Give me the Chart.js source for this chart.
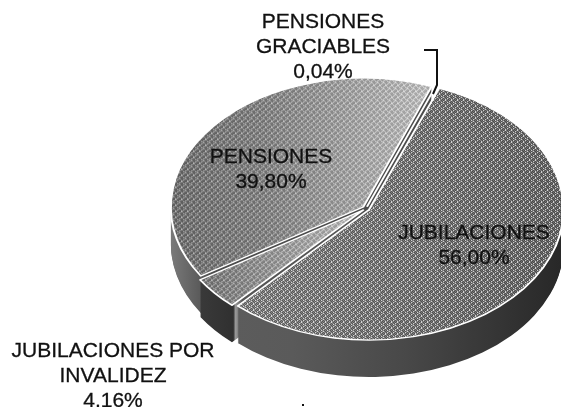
<!DOCTYPE html>
<html>
<head>
<meta charset="utf-8">
<style>
  html, body { margin: 0; padding: 0; background: #fff; }
  canvas { display: block; }
</style>
<script src="https://cdn.jsdelivr.net/npm/chart.js@4/dist/chart.umd.min.js"></script>
</head>
<body>
<canvas id="pie" width="561" height="407"></canvas>
<script>
const categories = ['JUBILACIONES', 'JUBILACIONES POR INVALIDEZ', 'PENSIONES', 'PENSIONES GRACIABLES'];
const shares = [56.00, 4.16, 39.80, 0.04];

const TILT = 0.67;
const DEPTH = 37;
const FONT = '21px "Liberation Sans", Arial, sans-serif';

// text blocks: centre x, first line middle y, lines
const labelBlocks = [
  { x: 323, y: 22, lines: ['PENSIONES', 'GRACIABLES', '0,04%'] },
  { x: 271, y: 157, lines: ['PENSIONES', '39,80%'] },
  { x: 474, y: 233, lines: ['JUBILACIONES', '56,00%'] },
  { x: 113, y: 351, lines: ['JUBILACIONES POR', 'INVALIDEZ', '4,16%'] },
];
const leader = [[424, 50], [437, 50], [437, 85], [433, 94]];

function ditherPattern(ctx) {
  // small fixed tile, gives the scanned halftone look
  const tile = document.createElement('canvas');
  tile.width = tile.height = 6;
  const t = tile.getContext('2d');
  const dark = [[0, 0], [2, 0], [1, 1], [4, 1], [3, 2], [5, 2], [0, 3], [4, 3], [2, 4], [5, 4], [1, 5], [3, 5]];
  const light = [[4, 0], [2, 1], [0, 2], [2, 3], [0, 4], [4, 5]];
  t.fillStyle = 'rgba(0,0,0,0.4)';
  dark.forEach(p => t.fillRect(p[0], p[1], 1, 1));
  t.fillStyle = 'rgba(255,255,255,0.7)';
  light.forEach(p => t.fillRect(p[0], p[1], 1, 1));
  const pattern = ctx.createPattern(tile, 'repeat');
  pattern.setTransform(new DOMMatrix().scale(1, 1 / TILT));
  return pattern;
}

function hGrad(ctx, x0, x1, stops) {
  const g = ctx.createLinearGradient(x0, 0, x1, 0);
  stops.forEach(s => g.addColorStop(s[0], s[1]));
  return g;
}

function arcOptions(orig, fill, borderWidth, borderColor) {
  return {
    backgroundColor: fill,
    borderWidth,
    borderColor,
    borderAlign: 'center',
    borderJoinStyle: 'round',
    borderDash: [],
    borderDashOffset: 0,
    borderRadius: 0,
    circular: true,
    offset: orig.offset,
    spacing: 0,
  };
}

const tiltedPie = {
  id: 'tiltedPie',
  beforeDatasetsDraw(chart) {
    const ctx = chart.ctx;
    const arcs = chart.getDatasetMeta(0).data;
    const cx = arcs[0].x, cy = arcs[0].y, r = arcs[0].outerRadius;

    const sideFill = [
      hGrad(ctx, cx - r, cx + r, [[0, '#5e5e5e'], [0.3, '#5a5a5a'], [0.6, '#484848'], [1, '#282828']]),
      hGrad(ctx, 200, 245, [[0, '#3a3a3a'], [0.8, '#303030'], [0.85, '#9a9a9a'], [1, '#555']]),
      hGrad(ctx, cx - r, cx - 150, [[0, '#787878'], [1, '#4c4c4c']]),
      '#555',
    ];
    const topFill = [
      hGrad(ctx, cx - 100, cx + r, [[0, '#8c8c8c'], [0.5, '#808080'], [1, '#707070']]),
      hGrad(ctx, 205, cx, [[0, '#808080'], [1, '#d4d4d4']]),
      hGrad(ctx, cx - r, cx + 60, [[0, '#747474'], [0.35, '#8a8a8a'], [1, '#d4d4d4']]),
      '#ffffff',
    ];
    const pattern = ditherPattern(ctx);

    const paint = (dy, fills, bw, bc) => {
      ctx.save();
      ctx.translate(cx, cy + dy);
      ctx.scale(1, TILT);
      ctx.translate(-cx, -cy);
      arcs.forEach((arc, i) => {
        const orig = arc.options;
        arc.options = arcOptions(orig, fills[i] || fills[0], bw, bc);
        arc.draw(ctx);
        arc.options = orig;
      });
      ctx.restore();
    };

    for (let d = DEPTH; d > 0; d--) paint(d, sideFill, 0, '#000');
    paint(0, topFill, 0, '#ffffff');
    paint(0, [pattern], 0, '#000');
    paint(0, ['rgba(0,0,0,0)'], 2, '#ffffff');
    return false;
  },
  afterDraw(chart) {
    const ctx = chart.ctx;
    ctx.save();
    ctx.font = FONT;
    ctx.textAlign = 'center';
    ctx.textBaseline = 'middle';
    ctx.fillStyle = '#111';
    ctx.strokeStyle = '#111';
    ctx.lineWidth = 0.3;
    labelBlocks.forEach(b => {
      b.lines.forEach((line, i) => {
        ctx.fillText(line, b.x, b.y + i * 25);
        ctx.strokeText(line, b.x, b.y + i * 25);
      });
    });
    ctx.lineWidth = 2;
    ctx.beginPath();
    leader.forEach((p, i) => (i ? ctx.lineTo(p[0], p[1]) : ctx.moveTo(p[0], p[1])));
    ctx.stroke();
    // stray scan speck below the pie
    ctx.fillRect(302, 404, 2, 2);
    ctx.restore();
  },
};

new Chart(document.getElementById('pie').getContext('2d'), {
  type: 'pie',
  data: {
    labels: categories,
    datasets: [{
      data: shares,
      backgroundColor: '#808080',
      borderWidth: 0,
      offset: 14,
    }],
  },
  options: {
    responsive: false,
    animation: false,
    rotation: 21,
    radius: 191,
    layout: { padding: { left: 171, top: 10 } },
    plugins: { legend: { display: false }, tooltip: { enabled: false } },
  },
  plugins: [tiltedPie],
});
</script>
</body>
</html>
